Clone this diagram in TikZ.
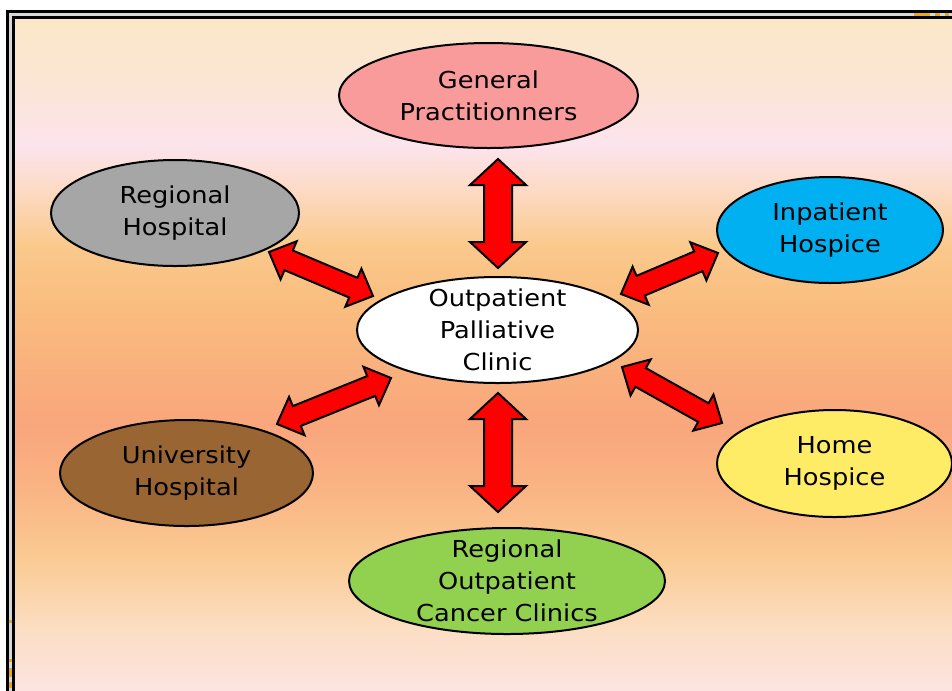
\documentclass[tikz,border=0pt]{standalone}
\usepackage{fontspec}
\setmainfont{DejaVu Sans}[FakeStretch=1.1]
\usetikzlibrary{shapes.geometric,calc}
\definecolor{framegray}{RGB}{215,215,215}
\definecolor{framegold}{RGB}{230,170,20}
\definecolor{arrred}{RGB}{255,0,0}
\definecolor{gpc}{RGB}{250,155,155}
\definecolor{rhc}{RGB}{166,166,166}
\definecolor{ihc}{RGB}{0,176,240}
\definecolor{uhc}{RGB}{153,102,51}
\definecolor{hhc}{RGB}{255,236,102}
\definecolor{rocc}{RGB}{146,208,80}
\definecolor{bgA}{RGB}{251,232,200}
\definecolor{bgB}{RGB}{251,229,214}
\definecolor{bgC}{RGB}{252,228,238}
\definecolor{bgD}{RGB}{252,218,196}
\definecolor{bgE}{RGB}{250,201,140}
\definecolor{bgF}{RGB}{250,190,128}
\definecolor{bgG}{RGB}{249,178,125}
\definecolor{bgH}{RGB}{249,166,124}
\definecolor{bgI}{RGB}{250,180,132}
\definecolor{bgJ}{RGB}{250,203,148}
\definecolor{bgK}{RGB}{252,222,196}
\definecolor{bgL}{RGB}{252,230,234}
\newcommand\dblarrow[5]{%
  \path ($(#1)!#3!(#2)$) coordinate (ha) ($(#2)!#3!(#1)$) coordinate (hb);
  \draw[arr] (#1) -- ($(ha)!#4!90:(#1)$) -- ($(ha)!#5!90:(#1)$)
    -- ($(hb)!#5!-90:(#2)$) -- ($(hb)!#4!-90:(#2)$) -- (#2)
    -- ($(hb)!#4!90:(#2)$) -- ($(hb)!#5!90:(#2)$)
    -- ($(ha)!#5!-90:(#1)$) -- ($(ha)!#4!-90:(#1)$) -- cycle;}
\begin{document}
\begin{tikzpicture}[x=0.75pt,y=-0.75pt,
  ell/.style={ellipse, draw=black, line width=1.5pt, inner sep=0pt},
  txt/.style={font=\fontsize{17.5pt}{24pt}\selectfont, align=center, inner sep=0pt, text=black},
  arr/.style={draw=black, fill=arrred, line width=1.5pt, line join=miter},
  band/.style={draw=none}]
\useasboundingbox (0,0) rectangle (952,690);
\clip (0,0) rectangle (952,690);
% frame
\fill[white] (0,0) rectangle (952,690);
\fill[black] (6,10) rectangle (970,710);
\fill[framegray] (9,13) rectangle (970,710);
\fill[black] (12,16) rectangle (970,710);
% background bands
\shade[band, top color=bgA, bottom color=bgB] (15,19) rectangle (970,90.5);
\shade[band, top color=bgB, bottom color=bgC] (15,90) rectangle (970,145.5);
\shade[band, top color=bgC, bottom color=bgD] (15,145) rectangle (970,190.5);
\shade[band, top color=bgD, bottom color=bgE] (15,190) rectangle (970,245.5);
\shade[band, top color=bgE, bottom color=bgF] (15,245) rectangle (970,300.5);
\shade[band, top color=bgF, bottom color=bgG] (15,300) rectangle (970,360.5);
\shade[band, top color=bgG, bottom color=bgH] (15,360) rectangle (970,425.5);
\shade[band, top color=bgH, bottom color=bgI] (15,425) rectangle (970,490.5);
\shade[band, top color=bgI, bottom color=bgJ] (15,490) rectangle (970,560.5);
\shade[band, top color=bgJ, bottom color=bgK] (15,560) rectangle (970,630.5);
\shade[band, top color=bgK, bottom color=bgL] (15,630) rectangle (970,710);
% gold marks on frame
\draw[framegold, line width=1.6pt] (914,14.5) -- (930,14.5) (935,14.5) -- (940,14.5) (945,14.5) -- (949,14.5);
\draw[framegold, line width=1.6pt] (10.5,620) -- (10.5,623) (10.5,659) -- (10.5,662) (10.5,668) -- (10.5,677) (10.5,682) -- (10.5,688);
% ellipses
\node[ell, fill=gpc, minimum width=224.25pt, minimum height=78.75pt,
  label={[txt]center:General\\Practitionners}] (gp) at (488.5,95.5) {};
\node[ell, fill=rhc, minimum width=186pt, minimum height=79.5pt,
  label={[txt]center:Regional\\Hospital}] (rh) at (175,213) {};
\node[ell, fill=ihc, minimum width=169.5pt, minimum height=79.5pt,
  label={[txt]center:Inpatient\\Hospice}] (ih) at (830,230) {};
\node[ell, fill=white, minimum width=210.75pt, minimum height=79.5pt,
  label={[txt]center:Outpatient\\Palliative\\Clinic}] (opc) at (497.5,330) {};
\node[ell, fill=uhc, minimum width=189.75pt, minimum height=79.5pt,
  label={[txt]center:University\\Hospital}] (uh) at (186.5,473) {};
\node[ell, fill=hhc, minimum width=176.25pt, minimum height=80.25pt,
  label={[txt]center:Home\\Hospice}] (hh) at (834.5,463.5) {};
\node[ell, fill=rocc, minimum width=237pt, minimum height=79.5pt,
  label={[txt]center:Regional\\Outpatient\\Cancer Clinics}] (roc) at (507,581) {};
% arrow end points
\coordinate (a1) at (498,159); \coordinate (a2) at (498,268);
\coordinate (b1) at (498,393); \coordinate (b2) at (498,512);
\coordinate (c1) at (269,252); \coordinate (c2) at (373,296);
\coordinate (d1) at (621,294); \coordinate (d2) at (718,253);
\coordinate (e1) at (277,424); \coordinate (e2) at (391,378);
\coordinate (f1) at (622,367); \coordinate (f2) at (722,423);
% arrows
\dblarrow{a1}{a2}{19.5pt}{21pt}{10.5pt}
\dblarrow{b1}{b2}{19.5pt}{21pt}{10.5pt}
\dblarrow{c1}{c2}{16pt}{15.5pt}{8pt}
\dblarrow{d1}{d2}{16pt}{15.5pt}{8pt}
\dblarrow{e1}{e2}{16pt}{15.5pt}{8pt}
\dblarrow{f1}{f2}{16pt}{15.5pt}{8pt}
\end{tikzpicture}
\end{document}
